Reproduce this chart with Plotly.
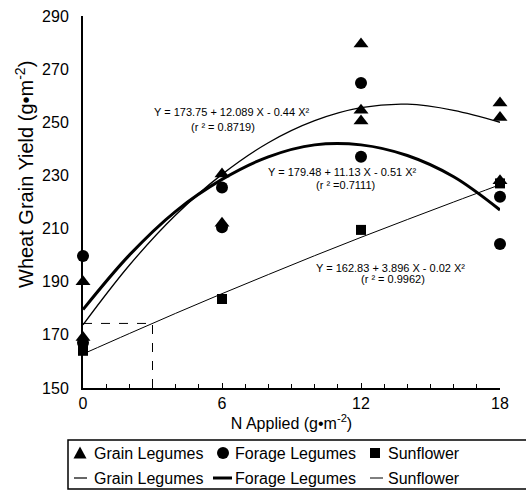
import plotly.graph_objects as go

# ---------------- data ----------------
grain_x = [0, 0, 6, 6, 12, 12, 12, 18, 18, 18]
grain_y = [190, 169, 230.5, 212, 279.5, 254.5, 250.5, 257.3, 251.8, 228]

forage_x = [0, 0, 6, 6, 12, 12, 18, 18]
forage_y = [199.7, 167, 225.5, 210.5, 264.8, 237, 222, 204.2]

sun_x = [0, 6, 12, 18]
sun_y = [164, 183.5, 209.5, 227]

curve_x = [0, 2, 4, 6, 8, 10, 12, 14, 16, 18]
grain_fit = [173.8, 196.2, 215.1, 230.4, 242.3, 250.6, 255.5, 256.8, 254.5, 250.0]
forage_fit = [179.5, 200.0, 216.5, 228.5, 237.0, 241.5, 241.5, 237.5, 229.5, 217.0]
sun_fit = [162.8, 170.5, 178.1, 185.5, 192.7, 199.8, 206.7, 213.4, 220.0, 226.5]

ref_x = 3
ref_y = 174.3

x_ticks = [0, 6, 12, 18]
y_ticks = [150, 170, 190, 210, 230, 250, 270, 290]

eq_texts = [
    ("Y = 173.75 + 12.089 X - 0.44 X²", 6.39, 254.0),
    ("(r ² = 0.8719)", 6.04, 248.3),
    ("Y = 179.48 + 11.13 X - 0.51 X²", 11.22, 231.3),
    ("(r ² =0.7111)", 11.35, 226.4),
    ("Y = 162.83 + 3.896 X - 0.02 X²", 13.29, 195.2),
    ("(r ² = 0.9962)", 13.38, 191.0),
]

legend_names = ["Grain Legumes", "Forage Legumes", "Sunflower"]

# ---------------- layout geometry (pixels) ----------------
W, H = 526, 494
L, R, T, B = 83, 26, 16, 106
PW = W - L - R
PH = H - T - B


def px(x):
    return (x - L) / PW


def py(y):
    return (H - B - y) / PH


FONT = "Arial, Liberation Sans, sans-serif"

fig = go.Figure()

# fitted curves
fig.add_trace(go.Scatter(x=curve_x, y=sun_fit, mode="lines", line=dict(color="black", width=1, shape="spline"),
                         showlegend=False, hoverinfo="skip"))
fig.add_trace(go.Scatter(x=curve_x, y=grain_fit, mode="lines", line=dict(color="black", width=1.3, shape="spline"),
                         showlegend=False, hoverinfo="skip"))
fig.add_trace(go.Scatter(x=curve_x, y=forage_fit, mode="lines", line=dict(color="black", width=3, shape="spline"),
                         showlegend=False, hoverinfo="skip"))

# observed points
fig.add_trace(go.Scatter(x=sun_x, y=sun_y, mode="markers", cliponaxis=False,
                         marker=dict(symbol="square", size=10, color="black"), showlegend=False))
fig.add_trace(go.Scatter(x=forage_x, y=forage_y, mode="markers", cliponaxis=False,
                         marker=dict(symbol="circle", size=12, color="black"), showlegend=False))
fig.add_trace(go.Scatter(x=grain_x, y=grain_y, mode="markers", cliponaxis=False,
                         marker=dict(symbol="triangle-up", size=13, color="black"), showlegend=False))

# dashed reference lines
fig.add_shape(type="line", x0=0, x1=ref_x, y0=ref_y, y1=ref_y, xref="x", yref="y",
              line=dict(color="black", width=1, dash="dash"))
fig.add_shape(type="line", x0=ref_x, x1=ref_x, y0=150, y1=ref_y, xref="x", yref="y",
              line=dict(color="black", width=1, dash="dash"))

# equation annotations
for txt, ax, ay in eq_texts:
    fig.add_annotation(x=ax, y=ay, xref="x", yref="y", text=txt, showarrow=False,
                       xanchor="center", yanchor="middle",
                       font=dict(family=FONT, size=11, color="black"))

# y-axis title
fig.add_annotation(x=px(25), y=py(175), xref="paper", yref="paper",
                   text="Wheat Grain Yield (g•m<sup>-2</sup>)", textangle=-90, showarrow=False,
                   xanchor="center", yanchor="middle", font=dict(family=FONT, size=20, color="black"))

# ---------------- manual legend ----------------
fig.add_shape(type="rect", xref="paper", yref="paper", x0=px(68), x1=px(540), y0=py(489), y1=py(440),
              line=dict(color="black", width=1.5), fillcolor="rgba(0,0,0,0)")

row1, row2 = 453, 478
sym_x = [80, 223, 375]
txt_x = [92, 233, 386]
line_spans = [(74, 87, 1.2), (213, 232, 3), (370, 383, 1)]

# triangle
fig.add_shape(type="path", xref="paper", yref="paper", xsizemode="pixel", ysizemode="pixel",
              xanchor=px(sym_x[0]), yanchor=py(row1), path="M -6.5,-5.5 L 6.5,-5.5 L 0,6.5 Z",
              fillcolor="black", line=dict(color="black", width=0))
# circle
fig.add_shape(type="circle", xref="paper", yref="paper", xsizemode="pixel", ysizemode="pixel",
              xanchor=px(sym_x[1]), yanchor=py(row1), x0=-6, x1=6, y0=-6, y1=6,
              fillcolor="black", line=dict(color="black", width=0))
# square
fig.add_shape(type="rect", xref="paper", yref="paper", xsizemode="pixel", ysizemode="pixel",
              xanchor=px(sym_x[2]), yanchor=py(row1), x0=-5, x1=5, y0=-5, y1=5,
              fillcolor="black", line=dict(color="black", width=0))

for (a, b, w) in line_spans:
    fig.add_shape(type="line", xref="paper", yref="paper", x0=px(a), x1=px(b), y0=py(row2), y1=py(row2),
                  line=dict(color="black", width=w))

for i, name in enumerate(legend_names):
    for row in (row1, row2):
        fig.add_annotation(x=px(txt_x[i]), y=py(row), xref="paper", yref="paper", text=name,
                           showarrow=False, xanchor="left", yanchor="middle",
                           font=dict(family=FONT, size=16, color="black"))

fig.update_layout(
    width=W, height=H,
    margin=dict(l=L, r=R, t=T, b=B, pad=0),
    paper_bgcolor="white", plot_bgcolor="white",
    showlegend=False,
    font=dict(family=FONT, color="black"),
    xaxis=dict(range=[0, 18], tickvals=x_ticks, ticktext=[str(v) for v in x_ticks],
               showgrid=False, zeroline=False, showline=True, linecolor="black", linewidth=2,
               ticks="inside", ticklen=5, tickcolor="black",
               minor=dict(dtick=1, ticks="inside", ticklen=4, tickcolor="black"),
               tickfont=dict(size=16, family=FONT, color="black"),
               title=dict(text="N Applied (g•m<sup>-2</sup>)", font=dict(size=16, family=FONT, color="black"),
                          standoff=4),
               automargin=False),
    yaxis=dict(range=[150, 290], tickvals=y_ticks, ticktext=[str(v) for v in y_ticks],
               showgrid=False, zeroline=False, showline=True, linecolor="black", linewidth=2,
               ticks="", ticklabelstandoff=9,
               tickfont=dict(size=16, family=FONT, color="black"),
               automargin=False),
)

fig.write_html("out.html")
